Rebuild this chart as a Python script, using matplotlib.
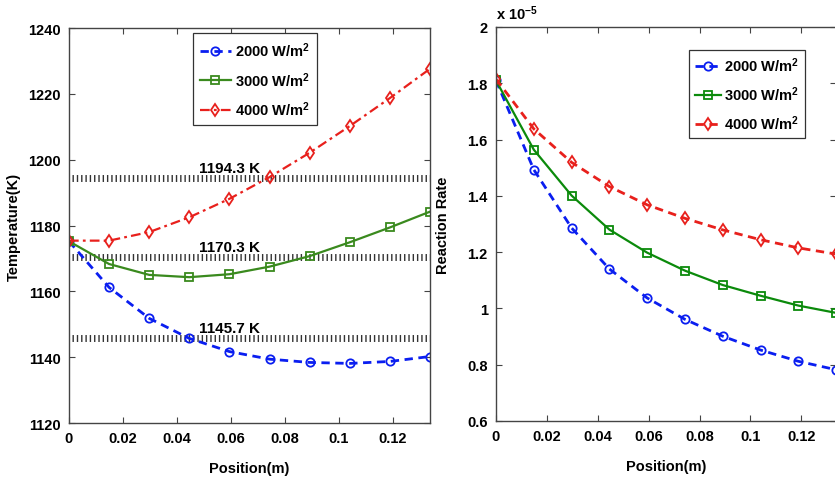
import numpy as np
import matplotlib
matplotlib.use("Agg")
import matplotlib.pyplot as plt

plt.rcParams['font.family'] = ['Liberation Sans', 'DejaVu Sans']
plt.rcParams['font.weight'] = 'bold'
plt.rcParams['mathtext.default'] = 'regular'
plt.rcParams['lines.scale_dashes'] = False

# Data
position = [0.0, 0.01486, 0.02971, 0.04457, 0.05942, 0.07428, 0.08913, 0.10399, 0.11884, 0.1337]
labels = ['2000 W/m$^2$', '3000 W/m$^2$', '4000 W/m$^2$']

temp_2000 = [1175.2, 1161.2, 1151.8, 1145.7, 1141.7, 1139.4, 1138.4, 1138.1, 1138.7, 1140.2]
temp_3000 = [1175.2, 1168.3, 1165.0, 1164.3, 1165.2, 1167.5, 1170.7, 1174.9, 1179.4, 1184.2]
temp_4000 = [1175.4, 1175.4, 1178.0, 1182.5, 1188.1, 1194.7, 1202.1, 1210.2, 1218.7, 1227.6]

rate_2000 = [1.810, 1.493, 1.286, 1.140, 1.037, 0.961, 0.901, 0.852, 0.812, 0.782]
rate_3000 = [1.810, 1.564, 1.401, 1.280, 1.198, 1.134, 1.083, 1.045, 1.010, 0.984]
rate_4000 = [1.815, 1.638, 1.519, 1.433, 1.368, 1.320, 1.279, 1.244, 1.215, 1.193]

avg_temps = [1194.3, 1170.3, 1145.7]
avg_labels = ['1194.3 K', '1170.3 K', '1145.7 K']

blue = '#0a1ef0'
green_l = '#3a8a1e'
green_r = '#0b8a0b'
red = '#e8201c'

fig = plt.figure(figsize=(8.35, 4.81), dpi=100)
ax1 = fig.add_axes([0.0826, 0.1185, 0.4323, 0.8212])
ax2 = fig.add_axes([0.594, 0.1227, 0.4075, 0.8191])


def style_axes(ax):
    ax.tick_params(direction='in', top=True, right=True, length=4,
                   labelsize=10.5, color='#444444', pad=6)
    for s in ax.spines.values():
        s.set_color('#444444')
        s.set_linewidth(1.0)
    ax.xaxis.set_major_formatter(plt.FormatStrFormatter('%g'))
    ax.yaxis.set_major_formatter(plt.FormatStrFormatter('%g'))
    for lab in ax.get_xticklabels() + ax.get_yticklabels():
        lab.set_fontweight('bold')


mk = dict(markersize=6, markerfacecolor='none', markeredgewidth=1.3)

# Left panel: temperature
ax1.plot(position, temp_2000, '--o', color=blue, lw=2.0, dashes=(6, 4), label=labels[0], **mk)
ax1.plot(position, temp_3000, '-s', color=green_l, lw=1.6, label=labels[1], **mk)
ax1.plot(position, temp_4000, '-.d', color=red, lw=1.6, dashes=(7, 3, 2, 3), label=labels[2], **mk)

for val, txt in zip(avg_temps, avg_labels):
    ax1.hlines(val, 0.0012, position[-1], colors='#333333', lw=5,
               linestyles=(0, (1.0, 2.1)), zorder=1)
    ax1.text(0.0593, val + 2.0, txt, ha='center', va='baseline',
             fontsize=11, fontweight='bold')

ax1.set_xlim(0, position[-1])
ax1.set_ylim(1120, 1240)
ax1.set_xticks([0, 0.02, 0.04, 0.06, 0.08, 0.1, 0.12])
ax1.set_yticks(np.arange(1120, 1241, 20))
ax1.set_xlabel('Position(m)', fontsize=10.5, fontweight='bold', labelpad=11)
ax1.set_ylabel('Temperature(K)', fontsize=10.5, fontweight='bold', labelpad=5)
style_axes(ax1)
leg1 = ax1.legend(loc='upper left', bbox_to_anchor=(0.343, 0.987),
                  fancybox=False, framealpha=1, edgecolor='#333333',
                  handlelength=2.1, handletextpad=0.3, labelspacing=0.75,
                  borderpad=0.5, borderaxespad=0,
                  prop={'weight': 'bold', 'size': 10.5})
leg1.get_frame().set_linewidth(0.9)

# Right panel: reaction rate (x 1e-5)
ax2.plot(position, rate_2000, '--o', color=blue, lw=2.0, dashes=(6, 4), label=labels[0], **mk)
ax2.plot(position, rate_3000, '-s', color=green_r, lw=1.6, label=labels[1], **mk)
ax2.plot(position, rate_4000, '--d', color=red, lw=2.0, dashes=(6, 4), label=labels[2], **mk)

ax2.set_xlim(0, position[-1])
ax2.set_ylim(0.6, 2.0)
ax2.set_xticks([0, 0.02, 0.04, 0.06, 0.08, 0.1, 0.12])
ax2.set_yticks([0.6, 0.8, 1.0, 1.2, 1.4, 1.6, 1.8, 2.0])
ax2.set_xlabel('Position(m)', fontsize=10.5, fontweight='bold', labelpad=11)
ax2.set_ylabel('Reaction Rate', fontsize=10.5, fontweight='bold', labelpad=12)
style_axes(ax2)
ax2.text(0.0, 1.012, r'x 10$^{-5}$', transform=ax2.transAxes,
         fontsize=10.5, fontweight='bold', ha='left', va='bottom')
leg2 = ax2.legend(loc='upper left', bbox_to_anchor=(0.568, 0.942),
                  fancybox=False, framealpha=1, edgecolor='#333333',
                  handlelength=1.8, handletextpad=0.2, labelspacing=0.7,
                  borderpad=0.4, borderaxespad=0,
                  prop={'weight': 'bold', 'size': 10.5})
leg2.get_frame().set_linewidth(0.9)

fig.savefig('out.png', dpi=100)
